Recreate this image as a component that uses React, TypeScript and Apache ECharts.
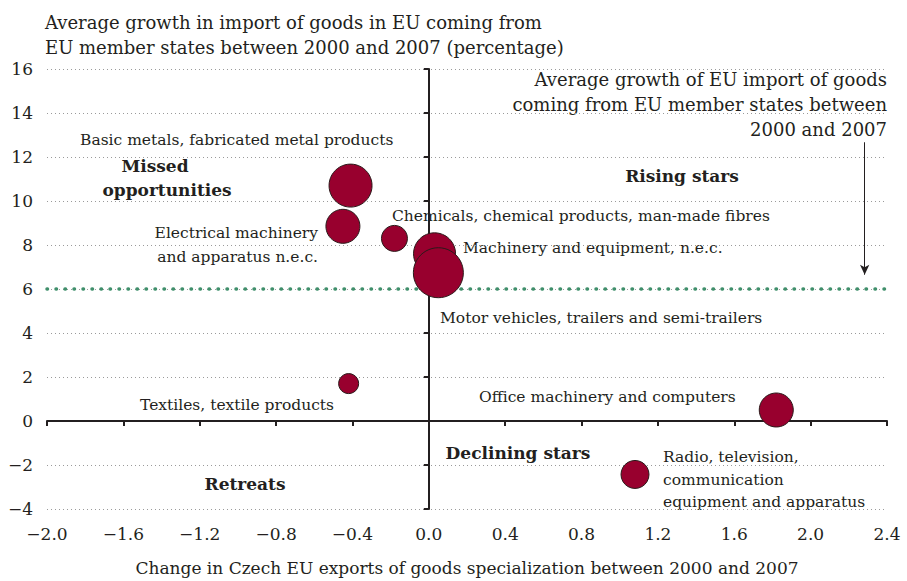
import React, { useEffect, useRef } from "react";
import * as echarts from "echarts";

const sectors = [
  "Basic metals, fabricated metal products",
  "Electrical machinery and apparatus n.e.c.",
  "Chemicals, chemical products, man-made fibres",
  "Machinery and equipment, n.e.c.",
  "Motor vehicles, trailers and semi-trailers",
  "Textiles, textile products",
  "Office machinery and computers",
  "Radio, television, communication equipment and apparatus",
];
const xValues = [-0.41, -0.45, -0.18, 0.03, 0.05, -0.42, 1.82, 1.08];
const yValues = [10.7, 8.85, 8.3, 7.6, 6.74, 1.7, 0.5, -2.43];
const bubbleSizes = [43, 34, 26, 42, 50, 20, 34, 28];
const euAverage = 6;
const xTicks = { min: -2.0, max: 2.4, interval: 0.4 };
const yTicks = { min: -4, max: 16, interval: 2 };

const FONT = "'DejaVu Serif', 'Liberation Serif', serif";
const INK = "#231f20";

function fmt(v: number, digits: number) {
  const s = Math.abs(v).toFixed(digits);
  return v < -1e-9 ? "\u2212" + s : s;
}

function txt(text: string, x: number, y: number, opts: any = {}) {
  return {
    type: "text",
    x,
    y,
    silent: true,
    style: {
      text,
      fill: INK,
      font: `${opts.bold ? "bold " : ""}${opts.size || 15.5}px ${FONT}`,
      textAlign: opts.align || "left",
      textVerticalAlign: "middle",
    },
  };
}

export default function App() {
  const ref = useRef<HTMLDivElement>(null);
  useEffect(() => {
    document.body.style.margin = "0";
    if (!ref.current) return;
    const chart = echarts.init(ref.current, undefined, { renderer: "svg" });
    const data = xValues.map((x, i) => ({
      name: sectors[i],
      value: [x, yValues[i], bubbleSizes[i]],
    }));
    const axisLabel = { color: INK, fontFamily: FONT, fontSize: 17 };
    chart.setOption({
      animation: false,
      backgroundColor: "#ffffff",
      grid: { left: 47, right: 20, top: 69, bottom: 67, containLabel: false },
      xAxis: [
        {
          type: "value",
          ...xTicks,
          position: "bottom",
          axisLine: { show: false, onZero: false },
          axisTick: { show: false },
          splitLine: { show: false },
          axisLabel: { ...axisLabel, margin: 16, formatter: (v: number) => fmt(v, 1) },
          name: "Change in Czech EU exports of goods specialization between 2000 and 2007",
          nameLocation: "middle",
          nameGap: 50,
          nameTextStyle: { color: INK, fontFamily: FONT, fontSize: 17 },
        },
        {
          type: "value",
          ...xTicks,
          position: "bottom",
          axisLine: { show: true, onZero: true, onZeroAxisIndex: 0, lineStyle: { color: INK, width: 2 } },
          axisTick: { show: true, length: 5, lineStyle: { color: INK, width: 2 } },
          axisLabel: { show: false },
          splitLine: { show: false },
        },
      ],
      yAxis: [
        {
          type: "value",
          ...yTicks,
          position: "left",
          axisLine: { show: false, onZero: false },
          axisTick: { show: false },
          axisLabel: { ...axisLabel, margin: 14, formatter: (v: number) => fmt(v, 0) },
          splitLine: { show: true, lineStyle: { color: "#9a9a9a", width: 1, type: [1, 3] } },
        },
        {
          type: "value",
          ...yTicks,
          position: "left",
          axisLine: { show: true, onZero: true, onZeroAxisIndex: 0, lineStyle: { color: INK, width: 2 } },
          axisTick: { show: true, length: 5, lineStyle: { color: INK, width: 2 } },
          axisLabel: { show: false },
          splitLine: { show: false },
        },
      ],
      series: [
        {
          type: "scatter",
          xAxisIndex: 0,
          yAxisIndex: 0,
          data,
          symbolSize: (v: number[]) => v[2],
          itemStyle: { color: "#98002e", borderColor: "#2a1a1a", borderWidth: 1, opacity: 1 },
          z: 5,
          markLine: {
            silent: true,
            symbol: "none",
            label: { show: false },
            data: [
              {
                yAxis: euAverage,
                lineStyle: { color: "#3f8f6b", width: 3.5, type: [0.5, 8.5], cap: "round" },
              },
              [
                { coord: [2.283, 12.67], symbol: "none" },
                {
                  coord: [2.283, 6.65],
                  symbol: "arrow",
                  symbolSize: [7, 10],
                  lineStyle: { color: INK, width: 1, type: "solid" },
                },
              ],
            ],
          },
        },
      ],
      graphic: [
        txt("Average growth in import of goods in EU coming from", 45, 22, { size: 18 }),
        txt("EU member states between 2000 and 2007 (percentage)", 45, 47, { size: 18 }),
        txt("Average growth of EU import of goods", 887, 79, { size: 18, align: "right" }),
        txt("coming from EU member states between", 887, 104, { size: 18, align: "right" }),
        txt("2000 and 2007", 887, 129, { size: 18, align: "right" }),
        txt("Rising stars", 682, 176, { size: 17, bold: true, align: "center" }),
        txt("Missed", 155, 166, { size: 17, bold: true, align: "center" }),
        txt("opportunities", 167, 190, { size: 17, bold: true, align: "center" }),
        txt("Declining stars", 518, 453, { size: 17, bold: true, align: "center" }),
        txt("Retreats", 245, 484, { size: 17, bold: true, align: "center" }),
        txt("Basic metals, fabricated metal products", 80, 140),
        txt("Electrical machinery", 318, 233, { align: "right" }),
        txt("and apparatus n.e.c.", 318, 257, { align: "right" }),
        txt("Chemicals, chemical products, man-made fibres", 392, 216),
        txt("Machinery and equipment, n.e.c.", 463, 248),
        txt("Motor vehicles, trailers and semi-trailers", 440, 318),
        txt("Textiles, textile products", 140, 405),
        txt("Office machinery and computers", 479, 397),
        txt("Radio, television,", 663, 457),
        txt("communication", 663, 480),
        txt("equipment and apparatus", 663, 502),
      ],
    });
    return () => chart.dispose();
  }, []);
  return <div ref={ref} style={{ width: 907, height: 581 }} />;
}
